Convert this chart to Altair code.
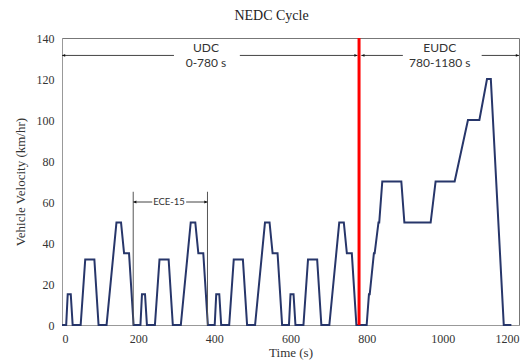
import altair as alt
import pandas as pd

# One ECE-15 urban block (195 s), repeated four times to form the UDC
ece_t = [0, 11, 15, 23, 28, 49, 61, 85, 96, 117, 143, 155, 163, 176, 188, 195]
ece_v = [0, 0, 15, 15, 0, 0, 32, 32, 0, 0, 50, 50, 35, 35, 0, 0]
ece_starts = [0, 195, 390, 585]

# Extra-urban part (EUDC)
eudc_t = [780, 800, 806, 808, 819, 821, 831, 833, 841, 891, 899, 968, 981,
          1031, 1066, 1096, 1116, 1126, 1160, 1180]
eudc_v = [0, 0, 15, 15, 35, 35, 50, 50, 70, 70, 50, 50, 70,
          70, 100, 100, 120, 120, 0, 0]

x_ticks = [0, 200, 400, 600, 800, 1000, 1200]
y_ticks = [0, 20, 40, 60, 80, 100, 120, 140]

# Annotation layout (in data units)
split_time = 780
bracket_x = [187, 382]
bracket_top = 65
seg_x = [0, 467, 786, 1102, 187, 326]
seg_x2 = [294, 776, 895, 1200, 237, 382]
seg_y = [131.5, 131.5, 131.5, 131.5, 60, 60]
head_x = [0, 776, 786, 1200, 187, 382]
head_y = [131.5, 131.5, 131.5, 131.5, 60, 60]
head_angle = [180, 0, 180, 0, 180, 0]
label_text = ["UDC", "0-780 s", "EUDC", "780-1180 s"]
label_x = [378, 378, 992, 992]
label_y = [135.2, 128, 135.2, 128]

times, speeds = [], []
for s in ece_starts:
    for t, v in zip(ece_t, ece_v):
        times.append(s + t)
        speeds.append(v)
times += eudc_t
speeds += eudc_v
cycle = pd.DataFrame({"t": times, "v": speeds})

xs = alt.Scale(domain=[0, 1200], nice=False)
ys = alt.Scale(domain=[0, 140], nice=False)

speed_line = alt.Chart(cycle).mark_line(
    color="#27366a", strokeWidth=2, strokeJoin="miter"
).encode(
    x=alt.X("t:Q", scale=xs, title="Time (s)",
            axis=alt.Axis(values=x_ticks, format="d")),
    y=alt.Y("v:Q", scale=ys, title="Vehicle Velocity (km/hr)",
            axis=alt.Axis(values=y_ticks, format="d")),
)

split_rule = alt.Chart(pd.DataFrame({"x": [split_time], "y": [0], "y2": [140]})).mark_rule(
    color="#ff0000", strokeWidth=3
).encode(x=alt.X("x:Q", scale=xs), y=alt.Y("y:Q", scale=ys), y2="y2:Q")

brackets = alt.Chart(pd.DataFrame({"x": bracket_x, "y": [0, 0],
                                   "y2": [bracket_top, bracket_top]})).mark_rule(
    color="#555555", strokeWidth=1
).encode(x=alt.X("x:Q", scale=xs), y=alt.Y("y:Q", scale=ys), y2="y2:Q")

segments = alt.Chart(pd.DataFrame({"x": seg_x, "x2": seg_x2, "y": seg_y})).mark_rule(
    color="#444444", strokeWidth=1
).encode(x=alt.X("x:Q", scale=xs), x2="x2:Q", y=alt.Y("y:Q", scale=ys))

heads = alt.Chart(pd.DataFrame({"x": head_x, "y": head_y, "a": head_angle})).mark_point(
    shape="M0,0L-1,-0.45L-1,0.45Z", filled=True, opacity=1, color="#111111", size=40
).encode(x=alt.X("x:Q", scale=xs), y=alt.Y("y:Q", scale=ys),
         angle=alt.Angle("a:Q", scale=None))

labels = alt.Chart(pd.DataFrame({"x": label_x, "y": label_y, "txt": label_text})).mark_text(
    font="Lato", fontSize=12, color="#333333", align="center", baseline="middle"
).encode(x=alt.X("x:Q", scale=xs), y=alt.Y("y:Q", scale=ys), text="txt:N")

ece_label = alt.Chart(pd.DataFrame({"x": [281], "y": [60], "txt": ["ECE-15"]})).mark_text(
    font="Lato", fontSize=9.5, color="#333333", align="center", baseline="middle"
).encode(x=alt.X("x:Q", scale=xs), y=alt.Y("y:Q", scale=ys), text="txt:N")

chart = alt.layer(
    speed_line, brackets, segments, heads, labels, ece_label, split_rule
).properties(
    width=457,
    height=287,
    title=alt.TitleParams("NEDC Cycle", font="Liberation Serif", fontSize=14,
                          fontWeight="normal", color="#222222", dx=-19, offset=9),
    autosize=alt.AutoSizeParams(type="none"),
    padding={"left": 62, "top": 38, "right": 13, "bottom": 37},
).configure_view(
    stroke="#777777", strokeWidth=1
).configure_axis(
    grid=False, ticks=False, domainColor="#999999",
    labelFont="Liberation Serif", labelFontSize=12, labelColor="#333333",
    titleFont="Liberation Serif", titleFontSize=13, titleFontWeight="normal",
    titleColor="#333333", labelPadding=8,
).configure_axisY(
    titlePadding=9
).configure_axisX(
    titlePadding=2
)

chart.save("out.html", embed_options={"renderer": "svg", "actions": False})
